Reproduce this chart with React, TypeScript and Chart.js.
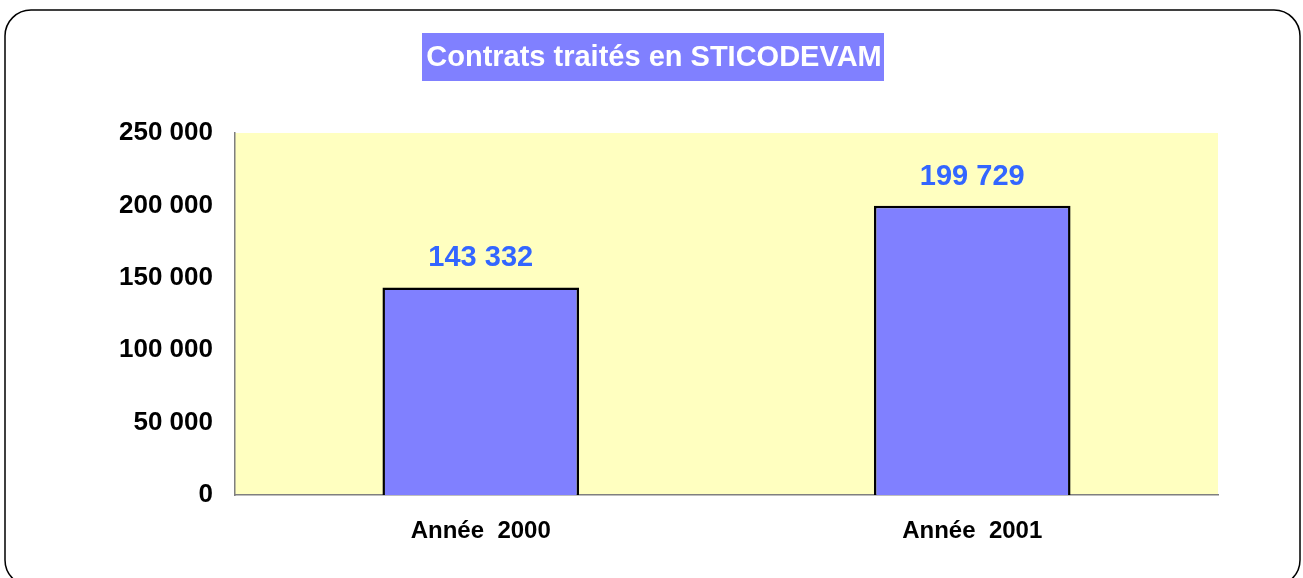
import React, { useEffect, useRef } from "react";
import { Chart, registerables } from "chart.js";

Chart.register(...registerables);

const categories = ["Année  2000", "Année  2001"];
const contrats = [143332, 199729];
const yTicks = [0, 50000, 100000, 150000, 200000, 250000];
const titleText = "Contrats traités en STICODEVAM";

const fmt = (v: number) => String(v).replace(/\B(?=(\d{3})+(?!\d))/g, " ");
const FONT = "Arial, 'Liberation Sans', sans-serif";

const framePlugin = {
  id: "frame",
  beforeDraw(chart: any) {
    const { ctx, chartArea } = chart;
    ctx.save();
    ctx.fillStyle = "#FFFFC0";
    ctx.fillRect(chartArea.left, chartArea.top, chartArea.right - chartArea.left, chartArea.bottom - chartArea.top);
    ctx.restore();
  },
  afterDraw(chart: any) {
    const { ctx } = chart;
    ctx.save();
    // outer rounded frame
    ctx.strokeStyle = "#000000";
    ctx.lineWidth = 1.5;
    ctx.beginPath();
    (ctx as any).roundRect(5, 10, 1295, 576, 26);
    ctx.stroke();
    // title box
    ctx.fillStyle = "#8080FF";
    ctx.fillRect(422, 33, 462, 48);
    ctx.fillStyle = "#FFFFFF";
    ctx.font = "bold 29px " + FONT;
    ctx.textAlign = "center";
    ctx.textBaseline = "alphabetic";
    ctx.fillText(titleText, 654, 66);
    // data labels
    const meta = chart.getDatasetMeta(0);
    ctx.fillStyle = "#3366FF";
    ctx.font = "bold 29px " + FONT;
    meta.data.forEach((bar: any, i: number) => {
      ctx.fillText(fmt(contrats[i]), bar.x, bar.y - 21);
    });
    ctx.restore();
  },
};

export default function App() {
  const ref = useRef<HTMLCanvasElement>(null);
  useEffect(() => {
    if (!ref.current) return;
    const chart = new Chart(ref.current, {
      type: "bar",
      data: {
        labels: categories,
        datasets: [
          {
            data: contrats,
            backgroundColor: "#8080FF",
            borderColor: "#000000",
            borderWidth: 2.5,
            categoryPercentage: 0.4,
            barPercentage: 1,
          },
        ],
      },
      options: {
        animation: false,
        responsive: false,
        layout: { padding: { top: 133, right: 85, left: 0, bottom: 0 } },
        plugins: { legend: { display: false }, title: { display: false }, tooltip: { enabled: false } },
        scales: {
          x: {
            grid: { display: false, drawTicks: false },
            border: { display: true, color: "#7F7F7F", width: 1.5 },
            ticks: {
              color: "#000000",
              font: { family: FONT, size: 24, weight: "bold" },
              padding: 22,
            },
            afterFit(scale: any) {
              scale.height = 83;
            },
          },
          y: {
            min: 0,
            max: 250000,
            grid: { display: false, drawTicks: false },
            border: { display: true, color: "#7F7F7F", width: 1.5 },
            afterBuildTicks(scale: any) {
              scale.ticks = yTicks.map((v) => ({ value: v }));
            },
            ticks: {
              color: "#000000",
              font: { family: FONT, size: 26, weight: "bold" },
              padding: 22,
              callback: (v: any) => fmt(Number(v)),
            },
            afterFit(scale: any) {
              scale.width = 235;
            },
          },
        },
      },
      plugins: [framePlugin],
    } as any);
    return () => chart.destroy();
  }, []);
  return (
    <div style={{ position: "fixed", left: 0, top: 0, width: 1303, height: 578, background: "#fff" }}>
      <canvas ref={ref} width={1303} height={578} style={{ display: "block" }} />
    </div>
  );
}
